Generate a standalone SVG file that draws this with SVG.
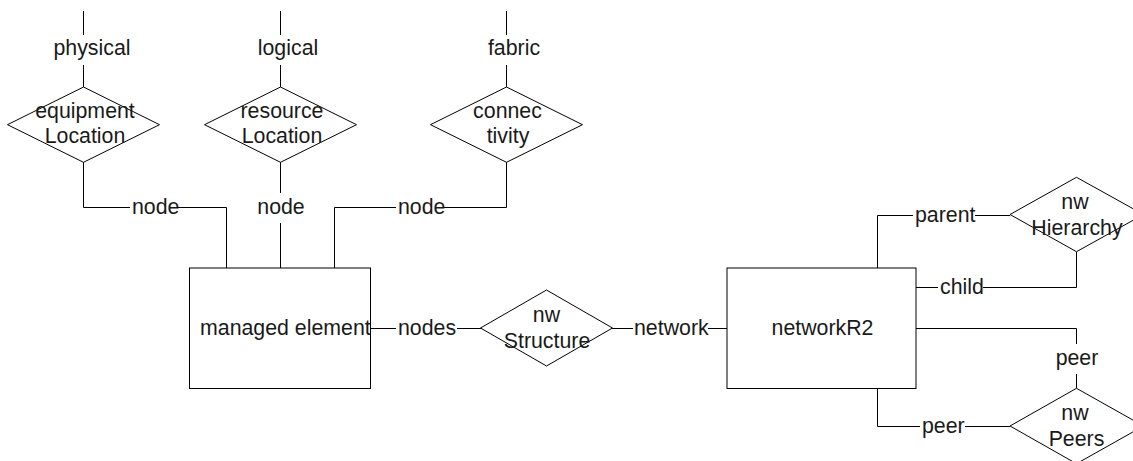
<svg xmlns="http://www.w3.org/2000/svg" width="1133" height="461" viewBox="0 0 1133 461">
<style>
  .shape { fill: #ffffff; stroke: #000000; stroke-width: 1; }
  .conn { fill: none; stroke: #000000; stroke-width: 1; }
  text { font-family: "Liberation Sans", Arial, Helvetica, sans-serif; font-size: 21.33px; fill: #1a1a1a; }
  .m { text-anchor: middle; }
</style>
<rect x="0" y="0" width="1133" height="461" fill="#ffffff"/>

<g id="connectors">
  <!-- equipmentLocation top -->
  <line class="conn" x1="83.5" y1="11" x2="83.5" y2="35"/>
  <line class="conn" x1="83.5" y1="65" x2="83.5" y2="87"/>
  <text class="m" x="92" y="55">physical</text>
  <!-- resourceLocation top -->
  <line class="conn" x1="280.5" y1="11" x2="280.5" y2="35"/>
  <line class="conn" x1="280.5" y1="65" x2="280.5" y2="87"/>
  <text class="m" x="288" y="55">logical</text>
  <!-- connectivity top -->
  <line class="conn" x1="506.5" y1="11" x2="506.5" y2="35"/>
  <line class="conn" x1="506.5" y1="65" x2="506.5" y2="87"/>
  <text class="m" x="514" y="55">fabric</text>

  <!-- equipmentLocation to managed element -->
  <polyline class="conn" points="83.5,162 83.5,207.5 130,207.5"/>
  <text x="132" y="213.5">node</text>
  <polyline class="conn" points="177,207.5 226.5,207.5 226.5,268"/>
  <!-- resourceLocation to managed element -->
  <line class="conn" x1="280.5" y1="162" x2="280.5" y2="193"/>
  <text class="m" x="281" y="213.5">node</text>
  <line class="conn" x1="280.5" y1="223" x2="280.5" y2="268"/>
  <!-- connectivity to managed element -->
  <polyline class="conn" points="506.5,162 506.5,207.5 444,207.5"/>
  <text x="398" y="213.5">node</text>
  <polyline class="conn" points="396,207.5 334.5,207.5 334.5,268"/>

  <!-- managed element to nwStructure -->
  <line class="conn" x1="370" y1="328.5" x2="396" y2="328.5"/>
  <text x="398" y="335">nodes</text>
  <line class="conn" x1="457" y1="328.5" x2="481" y2="328.5"/>
  <!-- nwStructure to networkR2 -->
  <line class="conn" x1="612" y1="328.5" x2="633" y2="328.5"/>
  <text x="634" y="335">network</text>
  <line class="conn" x1="708" y1="328.5" x2="727" y2="328.5"/>

  <!-- parent -->
  <polyline class="conn" points="877.5,268 877.5,215.5 913,215.5"/>
  <text x="915" y="221.5">parent</text>
  <line class="conn" x1="975" y1="215.5" x2="1010" y2="215.5"/>
  <!-- child -->
  <line class="conn" x1="916" y1="287.5" x2="938" y2="287.5"/>
  <text x="940" y="294">child</text>
  <polyline class="conn" points="983,287.5 1076.5,287.5 1076.5,252"/>
  <!-- peer (upper) -->
  <polyline class="conn" points="916,328.5 1076.5,328.5 1076.5,344"/>
  <text class="m" x="1077" y="365">peer</text>
  <line class="conn" x1="1076.5" y1="374" x2="1076.5" y2="388.5"/>
  <!-- peer (lower) -->
  <polyline class="conn" points="877.5,389 877.5,426.5 920,426.5"/>
  <text x="922" y="433">peer</text>
  <line class="conn" x1="965" y1="426.5" x2="1010" y2="426.5"/>
</g>

<g id="equipmentLocation">
  <polygon class="shape" points="83.5,87 159.5,124.7 83.5,162.3 7.5,124.7"/>
  <text class="m" x="85" y="118.3">equipment</text>
  <text class="m" x="85" y="143.3">Location</text>
</g>
<g id="resourceLocation">
  <polygon class="shape" points="280.5,87 356.5,124.7 280.5,162.3 204.5,124.7"/>
  <text class="m" x="282" y="118.3">resource</text>
  <text class="m" x="282" y="143.3">Location</text>
</g>
<g id="connectivity">
  <polygon class="shape" points="506.5,87 582.5,124.7 506.5,162.3 430.5,124.7"/>
  <text class="m" x="507.5" y="118.3">connec</text>
  <text class="m" x="508" y="143.3">tivity</text>
</g>
<g id="managedElement">
  <rect class="shape" x="189.5" y="268" width="181" height="120.5"/>
  <text x="200" y="335">managed element</text>
</g>
<g id="nwStructure">
  <polygon class="shape" points="546.5,290 612.5,328 546.5,366 480.5,328"/>
  <text class="m" x="546.5" y="321.7">nw</text>
  <text class="m" x="547" y="348.3">Structure</text>
</g>
<g id="networkR2">
  <rect class="shape" x="727" y="268" width="189" height="120.5"/>
  <text class="m" x="822.5" y="335">networkR2</text>
</g>
<g id="nwHierarchy">
  <polygon class="shape" points="1076.5,177.3 1143.5,214.5 1076.5,251.7 1010,214.5"/>
  <text class="m" x="1075" y="209">nw</text>
  <text class="m" x="1077" y="235">Hierarchy</text>
</g>
<g id="nwPeers">
  <polygon class="shape" points="1076.5,388.3 1143.5,426 1076.5,463.7 1010,426"/>
  <text class="m" x="1075" y="420">nw</text>
  <text class="m" x="1076.5" y="445.7">Peers</text>
</g>
</svg>
